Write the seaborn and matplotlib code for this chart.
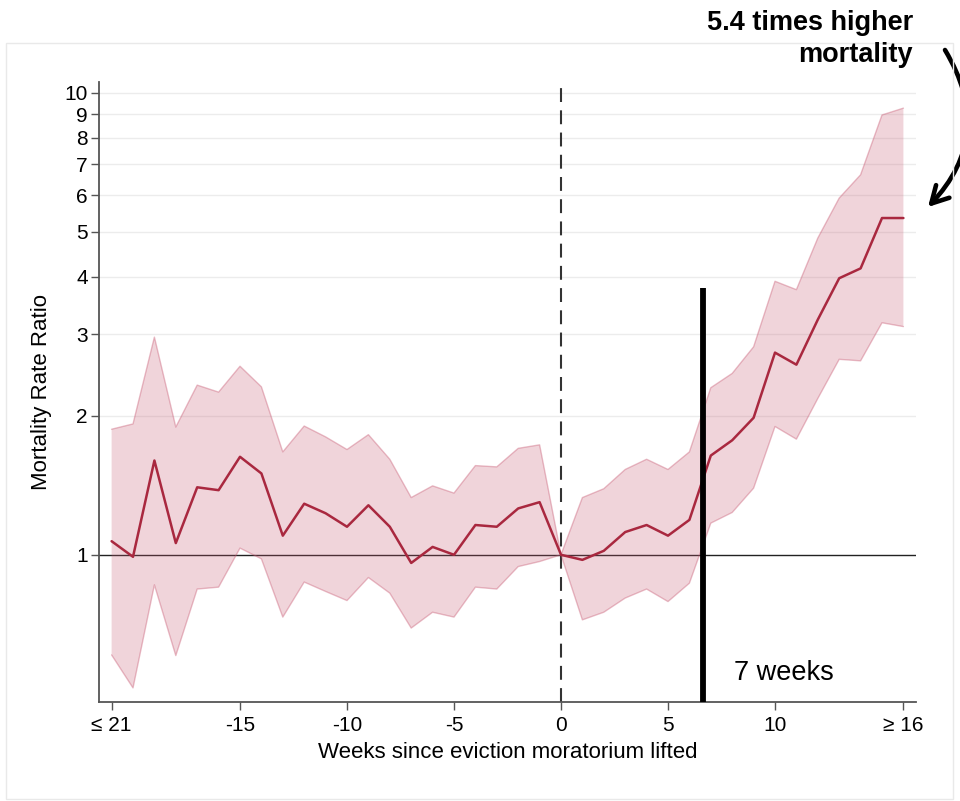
import numpy as np
import pandas as pd
import matplotlib
matplotlib.use("Agg")
import matplotlib.pyplot as plt
import seaborn as sns
from matplotlib.patches import Rectangle

# ---- data ----
weeks = [-21, -20, -19, -18, -17, -16, -15, -14, -13, -12, -11, -10, -9, -8,
         -7, -6, -5, -4, -3, -2, -1, 0, 1, 2, 3, 4, 5, 6, 7, 8, 9, 10, 11,
         12, 13, 14, 15, 16]
rate_ratio = [1.07, 0.99, 1.60, 1.06, 1.40, 1.38, 1.63, 1.50, 1.10, 1.29,
              1.23, 1.15, 1.28, 1.15, 0.96, 1.04, 1.00, 1.16, 1.15, 1.26,
              1.30, 1.00, 0.975, 1.02, 1.12, 1.16, 1.10, 1.19, 1.64, 1.77,
              1.98, 2.74, 2.58, 3.23, 3.97, 4.17, 5.36, 5.36]
ci_upper = [1.87, 1.92, 2.96, 1.89, 2.33, 2.25, 2.56, 2.31, 1.67, 1.90,
            1.80, 1.69, 1.82, 1.61, 1.33, 1.41, 1.36, 1.56, 1.55, 1.70,
            1.73, 1.00, 1.33, 1.39, 1.53, 1.61, 1.53, 1.67, 2.30, 2.47,
            2.82, 3.91, 3.75, 4.85, 5.92, 6.65, 8.96, 9.27]
ci_lower = [0.607, 0.515, 0.861, 0.605, 0.843, 0.851, 1.034, 0.98, 0.733,
            0.873, 0.833, 0.796, 0.893, 0.826, 0.694, 0.751, 0.733, 0.851,
            0.843, 0.943, 0.967, 1.00, 0.723, 0.751, 0.806, 0.843, 0.792,
            0.868, 1.171, 1.235, 1.394, 1.896, 1.78, 2.18, 2.65, 2.63,
            3.18, 3.12]

x_ticks = [-21, -15, -10, -5, 0, 5, 10, 16]
x_tick_labels = ["\u2264 21", "-15", "-10", "-5", "0", "5", "10", "\u2265 16"]
y_ticks = [1, 2, 3, 4, 5, 6, 7, 8, 9, 10]
y_tick_labels = ["1", "2", "3", "4", "5", "6", "7", "8", "9", "10"]

marker_week = 6.64      # thick black marker ("7 weeks")
marker_top = 3.78
marker_label = "7 weeks"
annotation_text = "5.4 times higher"
annotation_text2 = "mortality"

df = pd.DataFrame({"week": weeks, "rr": rate_ratio,
                   "lo": ci_lower, "hi": ci_upper})

# ---- style ----
sns.set_theme(style="white")
plt.rcParams["font.family"] = ["Liberation Sans", "DejaVu Sans"]
plt.rcParams["lines.scale_dashes"] = False
plt.rcParams["text.color"] = "black"

fig = plt.figure(figsize=(9.6, 8.01), dpi=100)
ax = fig.add_axes([0.1031, 0.1236, 0.8511, 0.774])

line_color = "#a9283f"
band_color = (200 / 255, 90 / 255, 115 / 255)

ax.set_yscale("log")
ax.set_xlim(-21.59, 16.59)
ax.set_ylim(0.480, 10.56)

# gridlines
for yv in y_ticks[1:]:
    ax.axhline(yv, color="#ececec", lw=1.0, zorder=0)

# confidence band
ax.fill_between(df["week"], df["lo"], df["hi"], facecolor=band_color,
                alpha=0.26, edgecolor="none", zorder=2)
ax.plot(df["week"], df["hi"], color=band_color, alpha=0.4, lw=1.0, zorder=2)
ax.plot(df["week"], df["lo"], color=band_color, alpha=0.4, lw=1.0, zorder=2)

# reference lines
ax.axhline(1, color="#222222", lw=1.0, zorder=1)
ax.axvline(0, color="#333333", lw=1.5, ls=(0, (10, 6)), zorder=1)

# main estimate line
sns.lineplot(data=df, x="week", y="rr", ax=ax, color=line_color, lw=1.8,
             zorder=4)

# thick black marker
ax.vlines(marker_week, 0.480, marker_top, color="black", lw=4.2, zorder=5)
ax.text(8.08, 0.536, marker_label, fontsize=19.5, color="black",
        ha="left", va="baseline")

# axes styling
ax.set_xticks(x_ticks)
ax.set_xticklabels(x_tick_labels)
ax.yaxis.set_minor_locator(matplotlib.ticker.NullLocator())
ax.set_yticks(y_ticks)
ax.set_yticklabels(y_tick_labels)
ax.tick_params(axis="both", which="major", labelsize=15, length=6,
               width=1.0, color="#555555", labelcolor="black", direction="out")
ax.tick_params(axis="y", pad=2)
ax.tick_params(axis="x", pad=4)
ax.tick_params(left=True, bottom=True)
for s in ["top", "right"]:
    ax.spines[s].set_visible(False)
for s in ["left", "bottom"]:
    ax.spines[s].set_color("#555555")
    ax.spines[s].set_linewidth(1.3)

ax.set_xlabel("Weeks since eviction moratorium lifted", fontsize=16,
              color="black", labelpad=5)
ax.set_ylabel("Mortality Rate Ratio", fontsize=16, color="black", labelpad=9)
ax.set_facecolor("none")
ax.grid(False)

# faint frame around the figure
fig.patches.append(Rectangle((6 / 960, 2 / 801), 947 / 960, 756 / 801,
                             transform=fig.transFigure, fill=False,
                             edgecolor="#e9e9e9", lw=1.0, zorder=0))

# annotation text and curved arrow
fig.text(913 / 960, 1 - 30 / 801, annotation_text, fontsize=19.5,
         fontweight="bold", ha="right", va="baseline", color="black")
fig.text(913 / 960, 1 - 62 / 801, annotation_text2, fontsize=19.5,
         fontweight="bold", ha="right", va="baseline", color="black")
ax.annotate("", xy=(928 / 960, 1 - 207 / 801), xycoords="figure fraction",
            xytext=(945 / 960, 1 - 50 / 801), textcoords="figure fraction",
            arrowprops=dict(arrowstyle="->,head_length=1.0,head_width=0.55",
                            connectionstyle="arc3,rad=-0.38",
                            color="black", lw=3.3, shrinkA=0, shrinkB=0),
            annotation_clip=False)

fig.savefig("out.png", dpi=100)
